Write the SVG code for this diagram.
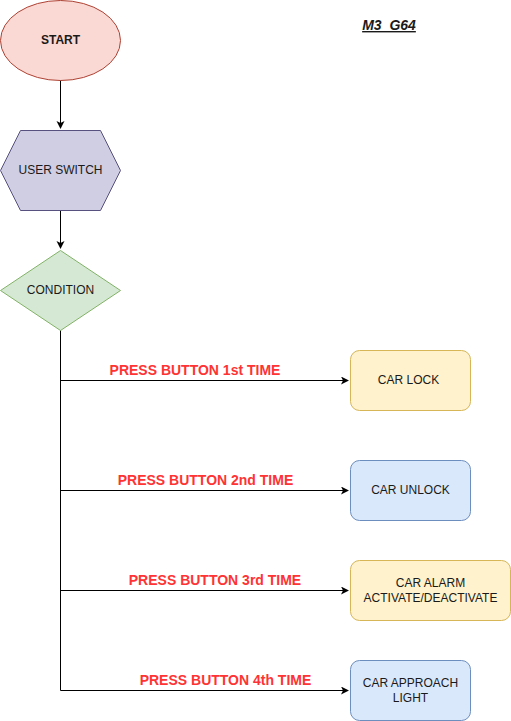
<svg xmlns="http://www.w3.org/2000/svg" width="511" height="721" viewBox="0 0 511 721">
<style>
text{font-family:"Liberation Sans",Arial,sans-serif;font-size:12px;fill:#1a1a1a;text-anchor:middle}
.lbl{font-weight:bold;fill:#ff3333;font-size:14px}
.edge{stroke:#000;stroke-width:1;fill:none}
.y{fill:#fff2cc;stroke:#d6b656}
.b{fill:#dae8fc;stroke:#6c8ebf}
</style>
<defs>
<marker id="ah" markerWidth="10" markerHeight="10" refX="7" refY="4" orient="auto" markerUnits="userSpaceOnUse">
<path d="M0,0 L8,4 L0,8 L2,4 Z" fill="#000"/>
</marker>
</defs>
<rect width="511" height="721" fill="#fff"/>
<g id="connectors">
<path class="edge" d="M60.5,80 V128" marker-end="url(#ah)"/>
<path class="edge" d="M60.5,210 V248" marker-end="url(#ah)"/>
<path class="edge" d="M60.5,330 V690.5 H348" marker-end="url(#ah)"/>
<path class="edge" d="M60.5,380.5 H348" marker-end="url(#ah)"/>
<path class="edge" d="M60.5,490.5 H348" marker-end="url(#ah)"/>
<path class="edge" d="M60.5,590.5 H348" marker-end="url(#ah)"/>
<text class="lbl" x="195" y="375">PRESS BUTTON 1st TIME</text>
<text class="lbl" x="205.5" y="485">PRESS BUTTON 2nd TIME</text>
<text class="lbl" x="215" y="585">PRESS BUTTON 3rd TIME</text>
<text class="lbl" x="225.5" y="685">PRESS BUTTON 4th TIME</text>
</g>
<g id="title">
<text x="389" y="30" style="font-weight:bold;font-style:italic;text-decoration:underline;font-size:14px">M3_G64</text>
</g>
<g id="start">
<ellipse cx="60.5" cy="40.5" rx="60" ry="40" fill="#fad9d5" stroke="#ae4132"/>
<text x="60.5" y="44" style="font-weight:bold">START</text>
</g>
<g id="user-switch">
<polygon points="20.5,130.5 100.5,130.5 120.5,170.5 100.5,210.5 20.5,210.5 0.5,170.5" fill="#d0cee2" stroke="#56517e"/>
<text x="60.5" y="174">USER SWITCH</text>
</g>
<g id="condition">
<polygon points="60.5,250.5 120.5,290.5 60.5,330.5 0.5,290.5" fill="#d5e8d4" stroke="#82b366"/>
<text x="60.5" y="294">CONDITION</text>
</g>
<g id="car-lock">
<rect class="y" x="350.5" y="350.5" width="120" height="60" rx="9"/>
<text x="408.5" y="384">CAR LOCK</text>
</g>
<g id="car-unlock">
<rect class="b" x="350.5" y="460.5" width="120" height="60" rx="9"/>
<text x="410.5" y="494">CAR UNLOCK</text>
</g>
<g id="car-alarm">
<rect class="y" x="350.5" y="560.5" width="160" height="60" rx="9"/>
<text x="430.5" y="587">CAR ALARM</text>
<text x="430.5" y="602">ACTIVATE/DEACTIVATE</text>
</g>
<g id="car-approach">
<rect class="b" x="350.5" y="660.5" width="120" height="60" rx="9"/>
<text x="410.5" y="687">CAR APPROACH</text>
<text x="410.5" y="702">LIGHT</text>
</g>
</svg>
